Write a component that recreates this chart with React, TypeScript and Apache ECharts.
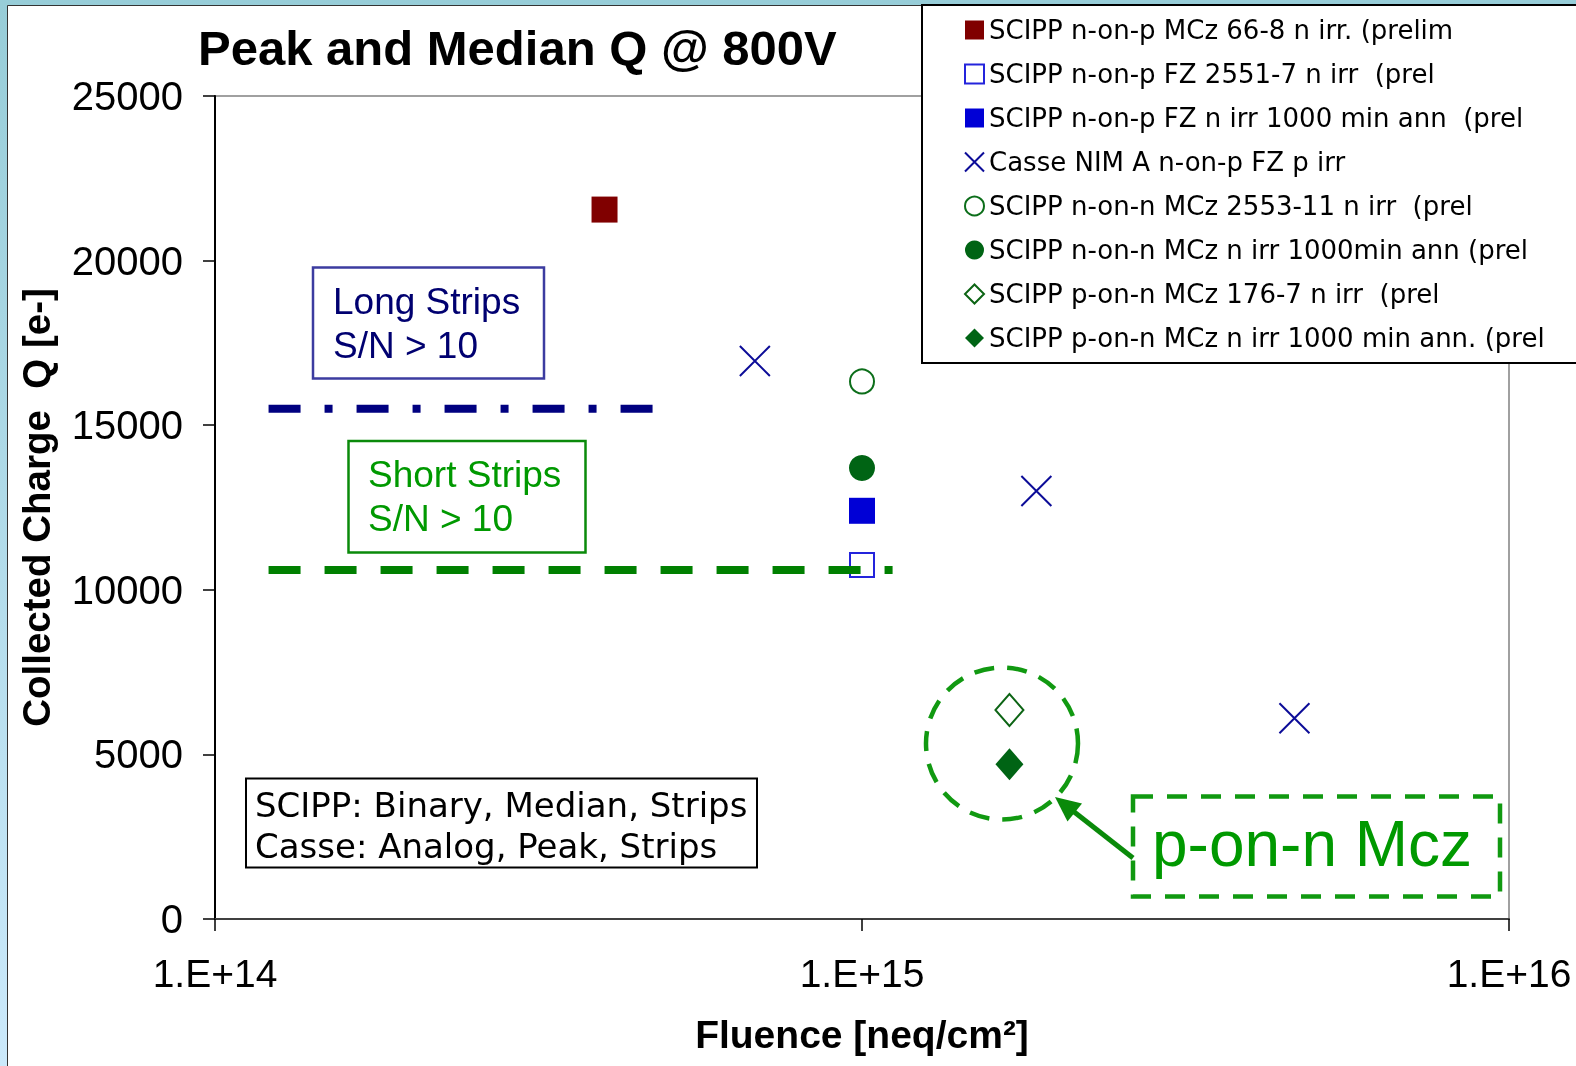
import React, { useEffect, useRef } from "react";
import * as echarts from "echarts";

// ---- data ----
const xExponents = [14, 15, 16];
const xTickLabels = ["1.E+14", "1.E+15", "1.E+16"];
const yMin = 0;
const yMax = 25000;
const yStep = 5000;

const seriesNames = [
  "SCIPP n-on-p MCz 66-8 n irr. (prelim",
  "SCIPP n-on-p FZ 2551-7 n irr  (prel",
  "SCIPP n-on-p FZ n irr 1000 min ann  (prel",
  "Casse NIM A n-on-p FZ p irr",
  "SCIPP n-on-n MCz 2553-11 n irr  (prel",
  "SCIPP n-on-n MCz n irr 1000min ann (prel",
  "SCIPP p-on-n MCz 176-7 n irr  (prel",
  "SCIPP p-on-n MCz n irr 1000 min ann. (prel",
];

const nOnPMcz668 = [[4.0e14, 21550]];
const nOnPFz25517 = [[1.0e15, 10750]];
const nOnPFzAnn = [[1.0e15, 12400]];
const casseNimA = [
  [6.83e14, 16950],
  [1.86e15, 13000],
  [4.66e15, 6100],
];
const nOnNMcz255311 = [[1.0e15, 16330]];
const nOnNMczAnn = [[1.0e15, 13700]];
const pOnNMcz1767 = [[1.69e15, 6350]];
const pOnNMczAnn = [[1.69e15, 4700]];

const longStripsLine = [
  [1.21e14, 15500],
  [4.75e14, 15500],
];
const shortStripsLine = [
  [1.21e14, 10600],
  [1.115e15, 10600],
];

const ARIAL = "Liberation Sans";
const VERDANA = "DejaVu Sans";

export default function App() {
  const ref = useRef<HTMLDivElement>(null);

  useEffect(() => {
    document.body.style.margin = "0";
    const chart = echarts.init(ref.current!, null, { renderer: "svg" });

    const scatter = (
      name: string,
      data: number[][],
      symbol: string,
      size: number | number[],
      itemStyle: any
    ) => ({
      type: "scatter",
      name,
      data,
      symbol,
      symbolSize: size,
      itemStyle: { opacity: 1, ...itemStyle },
      z: 2,
      silent: true,
    });

    const xSymbol = "path://M0 0L10 10M10 0L0 10";

    const option: any = {
      animation: false,
      title: {
        text: "Peak and Median Q @ 800V",
        left: 198,
        top: 23,
        padding: 0,
        textStyle: {
          fontFamily: ARIAL,
          fontWeight: "bold",
          fontSize: 49,
          color: "#000",
        },
      },
      grid: {
        left: 215,
        right: 67,
        top: 96,
        bottom: 147,
        show: true,
        borderColor: "#a0a0a0",
        borderWidth: 2,
        backgroundColor: "transparent",
      },
      legend: {
        orient: "vertical",
        left: 922,
        top: 5,
        padding: [12, 60, 12, 42],
        itemWidth: 19,
        itemHeight: 19,
        itemGap: 18,
        backgroundColor: "#fff",
        borderColor: "#000",
        borderWidth: 2,
        borderRadius: 0,
        data: seriesNames,
        textStyle: {
          fontFamily: VERDANA,
          fontSize: 26,
          color: "#000",
          lineHeight: 26,
        },
        selectedMode: false,
      },
      xAxis: {
        type: "log",
        logBase: 10,
        min: Math.pow(10, xExponents[0]),
        max: Math.pow(10, xExponents[xExponents.length - 1]),
        axisLine: { show: true, lineStyle: { color: "#404040", width: 2 } },
        axisTick: { show: true, length: 12, lineStyle: { color: "#000", width: 1.5 } },
        minorTick: { show: false },
        splitLine: { show: false },
        axisLabel: {
          fontFamily: ARIAL,
          fontSize: 39,
          color: "#000",
          margin: 35,
          formatter: (v: number) => {
            const e = Math.round(Math.log10(v));
            const i = xExponents.indexOf(e);
            return i >= 0 ? xTickLabels[i] : "";
          },
        },
        name: "Fluence [neq/cm²]",
        nameLocation: "middle",
        nameGap: 96,
        nameTextStyle: {
          fontFamily: ARIAL,
          fontWeight: "bold",
          fontSize: 39,
          color: "#000",
        },
      },
      yAxis: {
        type: "value",
        min: yMin,
        max: yMax,
        interval: yStep,
        axisLine: { show: true, lineStyle: { color: "#000", width: 2 } },
        axisTick: { show: true, length: 12, lineStyle: { color: "#000", width: 1.5 } },
        splitLine: { show: false },
        axisLabel: {
          fontFamily: ARIAL,
          fontSize: 40,
          color: "#000",
          margin: 32,
          formatter: (v: number) => String(Math.round(v)),
        },
        name: "Collected Charge  Q [e-]",
        nameLocation: "middle",
        nameRotate: 90,
        nameGap: 159,
        nameTextStyle: {
          fontFamily: ARIAL,
          fontWeight: "bold",
          fontSize: 38.5,
          color: "#000",
        },
      },
      series: [
        scatter(seriesNames[0], nOnPMcz668, "rect", 26, { color: "#800000" }),
        scatter(seriesNames[1], nOnPFz25517, "rect", 24, {
          color: "#fff",
          borderColor: "#2424dc",
          borderWidth: 2,
        }),
        scatter(seriesNames[2], nOnPFzAnn, "rect", 26, { color: "#0000d6" }),
        scatter(seriesNames[3], casseNimA, xSymbol, 30, {
          color: "transparent",
          borderColor: "#0c0c98",
          borderWidth: 2,
        }),
        scatter(seriesNames[4], nOnNMcz255311, "circle", 24, {
          color: "#fff",
          borderColor: "#0c6e1a",
          borderWidth: 2,
        }),
        scatter(seriesNames[5], nOnNMczAnn, "circle", 26, { color: "#006414" }),
        scatter(seriesNames[6], pOnNMcz1767, "diamond", [28, 32], {
          color: "#fff",
          borderColor: "#0c6414",
          borderWidth: 2,
        }),
        scatter(seriesNames[7], pOnNMczAnn, "diamond", [28, 32], { color: "#006414" }),
        {
          type: "line",
          name: "Long Strips S/N > 10",
          data: longStripsLine,
          symbol: "none",
          silent: true,
          z: 3,
          lineStyle: { color: "#000080", width: 8, type: [32, 24, 8, 24], cap: "butt" },
        },
        {
          type: "line",
          name: "Short Strips S/N > 10",
          data: shortStripsLine,
          symbol: "none",
          silent: true,
          z: 3,
          lineStyle: { color: "#008000", width: 8, type: [32, 24], cap: "butt" },
        },
      ],
      graphic: [
        {
          type: "rect",
          silent: true,
          z: -100,
          shape: { x: 0, y: 0, width: 1576, height: 1066 },
          style: {
            fill: new echarts.graphic.LinearGradient(0, 0, 0, 1, [
              { offset: 0, color: "#97cdd8" },
              { offset: 1, color: "#cbe9fb" },
            ]),
          },
        },
        {
          type: "rect",
          silent: true,
          z: -99,
          shape: { x: 7.5, y: 5.5, width: 1700, height: 1200 },
          style: { fill: "#fff", stroke: "#333", lineWidth: 1 },
        },
        // Long strips box
        {
          type: "rect",
          silent: true,
          z: 5,
          shape: { x: 313, y: 267.5, width: 231, height: 111 },
          style: { fill: "#fff", stroke: "#3c3ca0", lineWidth: 2.5 },
        },
        {
          type: "text",
          silent: true,
          z: 6,
          style: {
            x: 333,
            y: 279,
            text: "Long Strips\nS/N > 10",
            fontFamily: ARIAL,
            fontSize: 37,
            lineHeight: 44,
            fill: "#000070",
            verticalAlign: "top",
          },
        },
        // Short strips box
        {
          type: "rect",
          silent: true,
          z: 5,
          shape: { x: 348.5, y: 441, width: 237, height: 111.5 },
          style: { fill: "#fff", stroke: "#0a8a0a", lineWidth: 2.5 },
        },
        {
          type: "text",
          silent: true,
          z: 6,
          style: {
            x: 368,
            y: 452.5,
            text: "Short Strips\nS/N > 10",
            fontFamily: ARIAL,
            fontSize: 37,
            lineHeight: 44,
            fill: "#009900",
            verticalAlign: "top",
          },
        },
        // SCIPP / Casse box
        {
          type: "rect",
          silent: true,
          z: 5,
          shape: { x: 246, y: 778.5, width: 511, height: 89 },
          style: { fill: "#fff", stroke: "#000", lineWidth: 2 },
        },
        {
          type: "text",
          silent: true,
          z: 6,
          style: {
            x: 255,
            y: 784,
            text: "SCIPP: Binary, Median, Strips\nCasse: Analog, Peak, Strips",
            fontFamily: VERDANA,
            fontSize: 34,
            lineHeight: 41,
            fill: "#000",
            verticalAlign: "top",
          },
        },
        // dashed circle around p-on-n
        {
          type: "circle",
          silent: true,
          z: 5,
          shape: { cx: 1002, cy: 743.5, r: 76 },
          style: { fill: "none", stroke: "#119911", lineWidth: 4.5, lineDash: [20, 13] },
        },
        // p-on-n Mcz dashed box
        {
          type: "rect",
          silent: true,
          z: 5,
          shape: { x: 1133, y: 796.5, width: 367, height: 100 },
          style: { fill: "#fff", stroke: "#119911", lineWidth: 4.5, lineDash: [20, 14] },
        },
        {
          type: "text",
          silent: true,
          z: 6,
          style: {
            x: 1152,
            y: 844,
            text: "p-on-n Mcz",
            fontFamily: ARIAL,
            fontSize: 64,
            fill: "#009900",
            verticalAlign: "middle",
          },
        },
        // arrow
        {
          type: "line",
          silent: true,
          z: 6,
          shape: { x1: 1133, y1: 858, x2: 1073, y2: 811 },
          style: { stroke: "#0a8a0a", lineWidth: 5 },
        },
        {
          type: "polygon",
          silent: true,
          z: 6,
          shape: {
            points: [
              [1055, 797],
              [1082, 803.5],
              [1067.5, 821.5],
            ],
          },
          style: { fill: "#0a8a0a" },
        },
      ],
    };

    chart.setOption(option);
    return () => chart.dispose();
  }, []);

  return (
    <div
      ref={ref}
      style={{ position: "fixed", left: 0, top: 0, width: 1576, height: 1066 }}
    />
  );
}
